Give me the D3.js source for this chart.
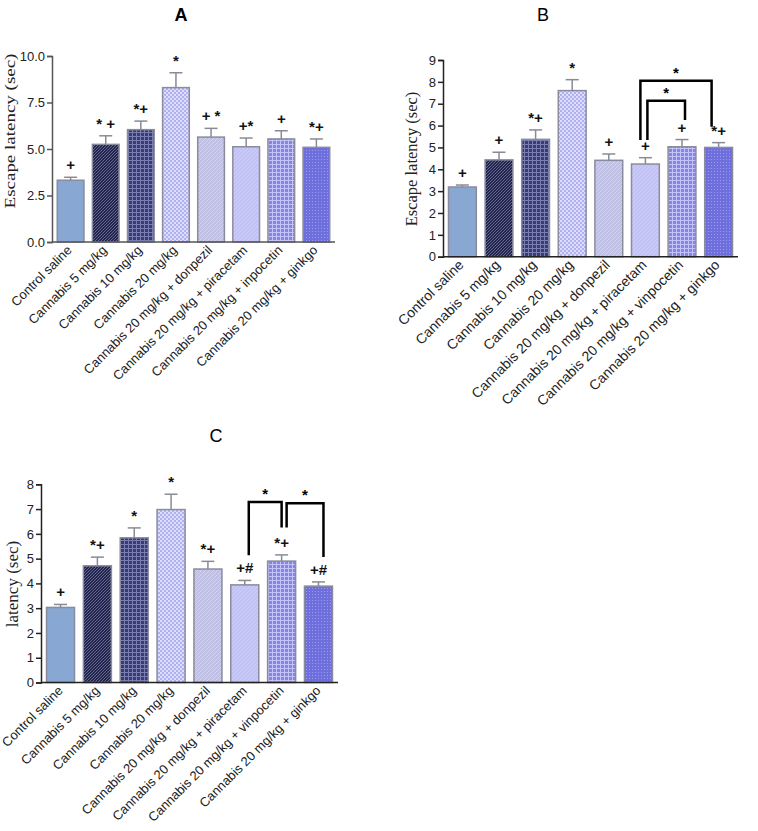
<!DOCTYPE html>
<html>
<head>
<meta charset="utf-8">
<script src="https://cdnjs.cloudflare.com/ajax/libs/d3/7.8.5/d3.min.js"></script>
<style>
  body { margin: 0; background: #fff; }
  text { font-family: Arial, "Liberation Sans", sans-serif; }
</style>
</head>
<body>
<div id="chart"></div>
<script>

// Data
var categoriesA = ["Control saline", "Cannabis 5 mg/kg", "Cannabis 10 mg/kg", "Cannabis 20 mg/kg",
  "Cannabis 20 mg/kg + donpezil", "Cannabis 20 mg/kg + piracetam",
  "Cannabis 20 mg/kg + inpocetin", "Cannabis 20 mg/kg + ginkgo"];
var categoriesBC = ["Control saline", "Cannabis 5 mg/kg", "Cannabis 10 mg/kg", "Cannabis 20 mg/kg",
  "Cannabis 20 mg/kg + donpezil", "Cannabis 20 mg/kg + piracetam",
  "Cannabis 20 mg/kg + vinpocetin", "Cannabis 20 mg/kg + ginkgo"];

var valuesA = [3.32, 5.25, 6.04, 8.30, 5.64, 5.12, 5.54, 5.09];
var semA    = [0.16, 0.46, 0.46, 0.80, 0.47, 0.47, 0.44, 0.45];
var marksA  = ["+", "* +", "*+", "*", "+ *", "+*", "+", "*+"];

var valuesB = [3.19, 4.43, 5.37, 7.60, 4.41, 4.24, 5.03, 5.00];
var semB    = [0.09, 0.35, 0.43, 0.50, 0.29, 0.29, 0.33, 0.22];
var marksB  = ["+", "+", "*+", "*", "+", "+", "+", "*+"];

var valuesC = [3.03, 4.71, 5.84, 6.98, 4.58, 3.94, 4.90, 3.89];
var semC    = [0.12, 0.35, 0.40, 0.62, 0.31, 0.18, 0.25, 0.17];
var marksC  = ["+", "*+", "*", "*", "*+", "+#", "*+", "+#"];

// brackets: [from index, to index, top level, left leg end, right leg end]
var bracketsB = [[5, 7, 8.05, 5.34, 5.95], [5, 6, 7.13, 5.34, 6.26]];
var bracketsC = [[5, 6, 7.29, 5.14, 6.26], [6, 7, 7.24, 6.26, 5.07]];

var ticksA = [0, 2.5, 5, 7.5, 10];
var ticksB = [0, 1, 2, 3, 4, 5, 6, 7, 8, 9];
var ticksC = [0, 1, 2, 3, 4, 5, 6, 7, 8];

// bar fills (patterns defined below)
var fills = ["#88a7d2", "url(#p2)", "url(#p3)", "url(#p4)", "url(#p5)", "url(#p6)", "url(#p7)", "url(#p8)"];

var width = 758, height = 831;

var svg = d3.select("#chart").append("svg")
  .attr("width", width)
  .attr("height", height);

// Patterns
var defs = svg.append("defs");

var p2 = defs.append("pattern").attr("id", "p2").attr("patternUnits", "userSpaceOnUse")
  .attr("width", 3).attr("height", 3);
p2.append("rect").attr("width", 3).attr("height", 3).attr("fill", "#23264a");
p2.append("path").attr("d", "M0,3 L3,0 M-1,1 L1,-1 M2,4 L4,2").attr("stroke", "#6a6e9e").attr("stroke-width", 0.9);

var p3 = defs.append("pattern").attr("id", "p3").attr("patternUnits", "userSpaceOnUse")
  .attr("width", 4).attr("height", 4);
p3.append("rect").attr("width", 4).attr("height", 4).attr("fill", "#393c70");
p3.append("path").attr("d", "M0,0.5 H4 M0.5,0 V4").attr("stroke", "#7b7eb2").attr("stroke-width", 1);

var p4 = defs.append("pattern").attr("id", "p4").attr("patternUnits", "userSpaceOnUse")
  .attr("width", 4).attr("height", 4);
p4.append("rect").attr("width", 4).attr("height", 4).attr("fill", "#aeb0f0");
p4.append("rect").attr("width", 2).attr("height", 2).attr("fill", "#dedefc");
p4.append("rect").attr("x", 2).attr("y", 2).attr("width", 2).attr("height", 2).attr("fill", "#dedefc");

var p5 = defs.append("pattern").attr("id", "p5").attr("patternUnits", "userSpaceOnUse")
  .attr("width", 4).attr("height", 4);
p5.append("rect").attr("width", 4).attr("height", 4).attr("fill", "#bfc0e3");
p5.append("path").attr("d", "M0,4 L4,0").attr("stroke", "#d3d4ef").attr("stroke-width", 1);

var p6 = defs.append("pattern").attr("id", "p6").attr("patternUnits", "userSpaceOnUse")
  .attr("width", 4).attr("height", 4);
p6.append("rect").attr("width", 4).attr("height", 4).attr("fill", "#c3c3f3");
p6.append("path").attr("d", "M0,4 L4,0").attr("stroke", "#cfcff6").attr("stroke-width", 1);

var p7 = defs.append("pattern").attr("id", "p7").attr("patternUnits", "userSpaceOnUse")
  .attr("width", 4).attr("height", 4);
p7.append("rect").attr("width", 4).attr("height", 4).attr("fill", "#8585e6");
p7.append("path").attr("d", "M0,0.5 H4 M0.5,0 V4").attr("stroke", "#c4c4f8").attr("stroke-width", 1);

var p8 = defs.append("pattern").attr("id", "p8").attr("patternUnits", "userSpaceOnUse")
  .attr("width", 3).attr("height", 3);
p8.append("rect").attr("width", 3).attr("height", 3).attr("fill", "#6e6edc");
p8.append("rect").attr("width", 1).attr("height", 1).attr("fill", "#9c9cee");

// Panels (layout only)
var panels = [
  { title: "A", bold: true, tx: 181, ty: 21, cats: categoriesA, values: valuesA, sem: semA, marks: marksA,
    brackets: [], bdx: [], ticks: ticksA, fmt: d3.format(".1f"), max: 10,
    x0: 52, x1: 335, y0: 242, y1: 56, ylabel: "Escape latency (sec)", lx: 15, ly: 131, lsize: 19, squash: 0.78,
    tickFont: 13, xFont: 13, axisColor: "#555", lshift: 2 },
  { title: "B", bold: false, tx: 543, ty: 21, cats: categoriesBC, values: valuesB, sem: semB, marks: marksB,
    brackets: bracketsB, bdx: [[-5, -7], [2, 3]], ticks: ticksB, fmt: d3.format("d"), max: 9,
    x0: 443, x1: 738, y0: 256.7, y1: 60, ylabel: "Escape latency (sec)", lx: 417, ly: 159, lsize: 16.5, squash: 1,
    tickFont: 13, xFont: 14, axisColor: "#222", lshift: 2 },
  { title: "C", bold: false, tx: 216, ty: 442, cats: categoriesBC, values: valuesC, sem: semC, marks: marksC,
    brackets: bracketsC, bdx: [[4, 0], [5, 5]], ticks: ticksC, fmt: d3.format("d"), max: 8,
    x0: 41, x1: 338, y0: 682.5, y1: 484.3, ylabel: "latency (sec)", lx: 18, ly: 584, lsize: 17, squash: 1,
    tickFont: 13, xFont: 13, axisColor: "#222", lshift: 3 }
];

panels.forEach(function(p){

  var g = svg.append("g");

  var x_scale = d3.scaleBand()
    .domain(p.cats)
    .range([p.x0, p.x1])
    .paddingInner(0.24)
    .paddingOuter(0.15);

  var y_scale = d3.scaleLinear()
    .domain([0, p.max])
    .range([p.y0, p.y1]);

  // Bars
  g.selectAll("rect.bar")
    .data(p.values)
    .enter()
    .append("rect")
    .attr("class", "bar")
    .attr("x", function(d, i){ return x_scale(p.cats[i]); })
    .attr("y", function(d){ return y_scale(d); })
    .attr("width", x_scale.bandwidth())
    .attr("height", function(d){ return p.y0 - y_scale(d); })
    .attr("fill", function(d, i){ return fills[i]; })
    .attr("stroke", "#8a8b9c")
    .attr("stroke-width", 1.5);

  // Error bars (upper only)
  var eb = g.append("g").attr("stroke", "#8a8a96").attr("stroke-width", 1.5);
  p.values.forEach(function(d, i){
    var cx = x_scale(p.cats[i]) + x_scale.bandwidth() / 2;
    var top = y_scale(d + p.sem[i]);
    eb.append("line").attr("x1", cx).attr("x2", cx).attr("y1", y_scale(d)).attr("y2", top);
    eb.append("line").attr("x1", cx - 6.5).attr("x2", cx + 6.5).attr("y1", top).attr("y2", top);
  });

  // Significance marks
  g.append("g").selectAll("text")
    .data(p.marks)
    .enter()
    .append("text")
    .attr("x", function(d, i){ return x_scale(p.cats[i]) + x_scale.bandwidth() / 2; })
    .attr("y", function(d, i){ return y_scale(p.values[i] + p.sem[i]) - 7; })
    .attr("text-anchor", "middle")
    .attr("font-size", "15px")
    .attr("font-weight", "bold")
    .attr("fill", "#111")
    .text(function(d){ return d; });

  // Brackets
  p.brackets.forEach(function(b, k){
    var xa = x_scale(p.cats[b[0]]) + x_scale.bandwidth() / 2 + p.bdx[k][0];
    var xb = x_scale(p.cats[b[1]]) + x_scale.bandwidth() / 2 + p.bdx[k][1];
    var yt = y_scale(b[2]);
    g.append("path")
      .attr("d", "M" + xa + "," + y_scale(b[3]) + " V" + yt + " H" + xb + " V" + y_scale(b[4]))
      .attr("fill", "none")
      .attr("stroke", "#000")
      .attr("stroke-width", 2.5);
    g.append("text")
      .attr("x", (xa + xb) / 2)
      .attr("y", yt - 3)
      .attr("text-anchor", "middle")
      .attr("font-size", "15px")
      .attr("font-weight", "bold")
      .text("*");
  });

  // Y axis
  var y_axis = d3.axisLeft(y_scale)
    .tickValues(p.ticks)
    .tickFormat(p.fmt)
    .tickSize(5)
    .tickPadding(2);
  var ya = g.append("g")
    .attr("transform", "translate(" + p.x0 + ",0)")
    .call(y_axis);
  ya.select(".domain").attr("stroke", p.axisColor).attr("stroke-width", 1.5);
  ya.selectAll(".tick line").attr("stroke", p.axisColor).attr("stroke-width", 1.5);
  ya.selectAll(".tick text").attr("font-size", p.tickFont + "px").attr("fill", "#222")
    .style("font-family", "Arial, 'Liberation Sans', sans-serif");

  // X axis line
  g.append("line")
    .attr("x1", p.x0).attr("x2", p.x1)
    .attr("y1", p.y0).attr("y2", p.y0)
    .attr("stroke", p.axisColor).attr("stroke-width", 1.5);

  // Category labels
  g.append("g").selectAll("text")
    .data(p.cats)
    .enter()
    .append("text")
    .attr("transform", function(d){
      var cx = x_scale(d) + x_scale.bandwidth() / 2;
      return "translate(" + (cx + p.lshift) + "," + (p.y0 + 9) + ") rotate(-45)";
    })
    .attr("text-anchor", "end")
    .attr("font-size", p.xFont + "px")
    .attr("fill", "#222")
    .text(function(d){ return d; });

  // Y label
  g.append("text")
    .attr("transform", "translate(" + p.lx + "," + p.ly + ") rotate(-90) scale(1," + p.squash + ")")
    .attr("text-anchor", "middle")
    .style("font-family", "'Liberation Serif', 'Times New Roman', serif")
    .attr("font-size", p.lsize + "px")
    .attr("fill", "#222")
    .text(p.ylabel);

  // Title
  g.append("text")
    .attr("x", p.tx).attr("y", p.ty)
    .attr("text-anchor", "middle")
    .attr("font-size", "18px")
    .attr("font-weight", p.bold ? "bold" : "normal")
    .text(p.title);
});

</script>
</body>
</html>
